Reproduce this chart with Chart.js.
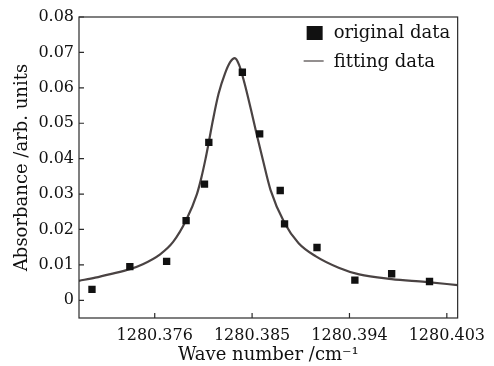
<!DOCTYPE html>
<html>
<head>
<meta charset="utf-8">
<script src="https://cdn.jsdelivr.net/npm/chart.js@4"></script>
<style>
  html, body { margin: 0; padding: 0; background: #fff; }
  #wrap { width: 494px; height: 366px; }
</style>
</head>
<body>
<div id="wrap"><canvas id="absChart"></canvas></div>
<script>
const xOriginal = [1280.3702, 1280.3737, 1280.3771, 1280.3789, 1280.3806, 1280.3810, 1280.3841,
                   1280.3857, 1280.3876, 1280.3880, 1280.3910, 1280.3945, 1280.3979, 1280.4014];
const yOriginal = [0.0031, 0.0095, 0.0110, 0.0225, 0.0328, 0.0446, 0.0644,
                   0.0470, 0.0310, 0.0216, 0.0149, 0.0057, 0.0075, 0.0053];

// fitted curve, sampled along the drawn line
const xFit = [1280.3690, 1280.3705, 1280.3719, 1280.3737, 1280.3749, 1280.3765, 1280.3777, 1280.3789,
              1280.3799, 1280.3803, 1280.3807, 1280.3810, 1280.3814, 1280.3819, 1280.3825, 1280.3830,
              1280.3834, 1280.3838, 1280.3843, 1280.3849, 1280.3854, 1280.3860, 1280.3867, 1280.3880,
              1280.3893, 1280.3909, 1280.3930, 1280.3949, 1280.3979, 1280.4010, 1280.4040];
const yFit = [0.0055, 0.0064, 0.0074, 0.0088, 0.0102, 0.0130, 0.0165, 0.0226,
              0.0300, 0.0345, 0.0400, 0.0447, 0.0512, 0.0583, 0.0641, 0.0674,
              0.0684, 0.0665, 0.0613, 0.0538, 0.0472, 0.0396, 0.0312, 0.0218,
              0.0161, 0.0124, 0.0092, 0.0073, 0.0060, 0.0052, 0.0043];

const xTicks = [1280.376, 1280.385, 1280.394, 1280.403];
const yTicks = [0, 0.01, 0.02, 0.03, 0.04, 0.05, 0.06, 0.07, 0.08];

const FONT = "'DejaVu Serif', 'Liberation Serif', serif";
const INK = '#2b2b2b';

// box frame + inward ticks
const frameTicks = {
  id: 'frameTicks',
  afterDraw(chart) {
    const { ctx, chartArea: a, scales } = chart;
    ctx.save();
    ctx.strokeStyle = INK;
    ctx.lineWidth = 1.2;
    ctx.strokeRect(a.left, a.top, a.right - a.left, a.bottom - a.top);
    ctx.beginPath();
    scales.x.ticks.forEach(t => {
      const px = scales.x.getPixelForValue(t.value);
      ctx.moveTo(px, a.bottom);
      ctx.lineTo(px, a.bottom - 5);
    });
    scales.y.ticks.forEach(t => {
      const py = scales.y.getPixelForValue(t.value);
      ctx.moveTo(a.left, py);
      ctx.lineTo(a.left + 5, py);
    });
    ctx.stroke();
    ctx.restore();
  }
};

// legend in the upper right corner
const cornerLegend = {
  id: 'cornerLegend',
  afterDraw(chart) {
    const { ctx, chartArea: a } = chart;
    const ds = chart.data.datasets;
    const x0 = a.right - 152;
    const textX = x0 + 28;
    ctx.save();
    ctx.font = '18px ' + FONT;
    ctx.textBaseline = 'middle';
    // square marker
    ctx.fillStyle = ds[0].backgroundColor;
    ctx.fillRect(x0 + 1, a.top + 9, 16, 14);
    ctx.fillStyle = '#111';
    ctx.fillText(ds[0].label, textX, a.top + 16);
    // line marker
    ctx.strokeStyle = ds[1].borderColor;
    ctx.lineWidth = 1.2;
    ctx.beginPath();
    ctx.moveTo(x0 - 2, a.top + 44);
    ctx.lineTo(x0 + 18, a.top + 44);
    ctx.stroke();
    ctx.fillText(ds[1].label, textX, a.top + 45);
    ctx.restore();
  }
};

new Chart(document.getElementById('absChart'), {
  type: 'scatter',
  data: {
    datasets: [
      {
        label: 'original data',
        data: xOriginal.map((x, i) => ({ x: x, y: yOriginal[i] })),
        backgroundColor: '#111111',
        borderColor: '#111111',
        pointStyle: 'rect',
        pointRadius: 5.2,
        pointBorderWidth: 0,
        showLine: false,
        order: 0
      },
      {
        label: 'fitting data',
        type: 'line',
        data: xFit.map((x, i) => ({ x: x, y: yFit[i] })),
        borderColor: '#4a4343',
        borderWidth: 2.2,
        pointRadius: 0,
        fill: false,
        cubicInterpolationMode: 'monotone',
        order: 1
      }
    ]
  },
  plugins: [frameTicks, cornerLegend],
  options: {
    responsive: true,
    maintainAspectRatio: false,
    animation: false,
    layout: { padding: { left: 0, right: 35, top: 17, bottom: 0 } },
    plugins: {
      legend: { display: false },
      tooltip: { enabled: false }
    },
    scales: {
      x: {
        type: 'linear',
        min: 1280.369,
        max: 1280.404,
        afterBuildTicks: axis => { axis.ticks = xTicks.map(v => ({ value: v })); },
        afterFit: axis => { axis.height = 48; },
        grid: { display: false, drawTicks: false },
        border: { display: false },
        ticks: {
          padding: 8,
          color: '#111',
          font: { family: FONT, size: 16 },
          maxRotation: 0,
          callback: v => v.toFixed(3)
        },
        title: {
          display: true,
          text: 'Wave number /cm⁻¹',
          color: '#111',
          font: { family: FONT, size: 18 },
          padding: { top: 0, bottom: 0 }
        }
      },
      y: {
        min: -0.005,
        max: 0.08,
        afterBuildTicks: axis => { axis.ticks = yTicks.map(v => ({ value: v })); },
        afterFit: axis => { axis.width = 79; },
        grid: { display: false, drawTicks: false },
        border: { display: false },
        ticks: {
          padding: 5,
          color: '#111',
          font: { family: FONT, size: 16 },
          callback: v => (v === 0 ? '0' : v.toFixed(2))
        },
        title: {
          display: true,
          text: 'Absorbance /arb. units',
          color: '#111',
          font: { family: FONT, size: 18 },
          padding: { top: 12, bottom: 4 }
        }
      }
    }
  }
});
</script>
</body>
</html>
